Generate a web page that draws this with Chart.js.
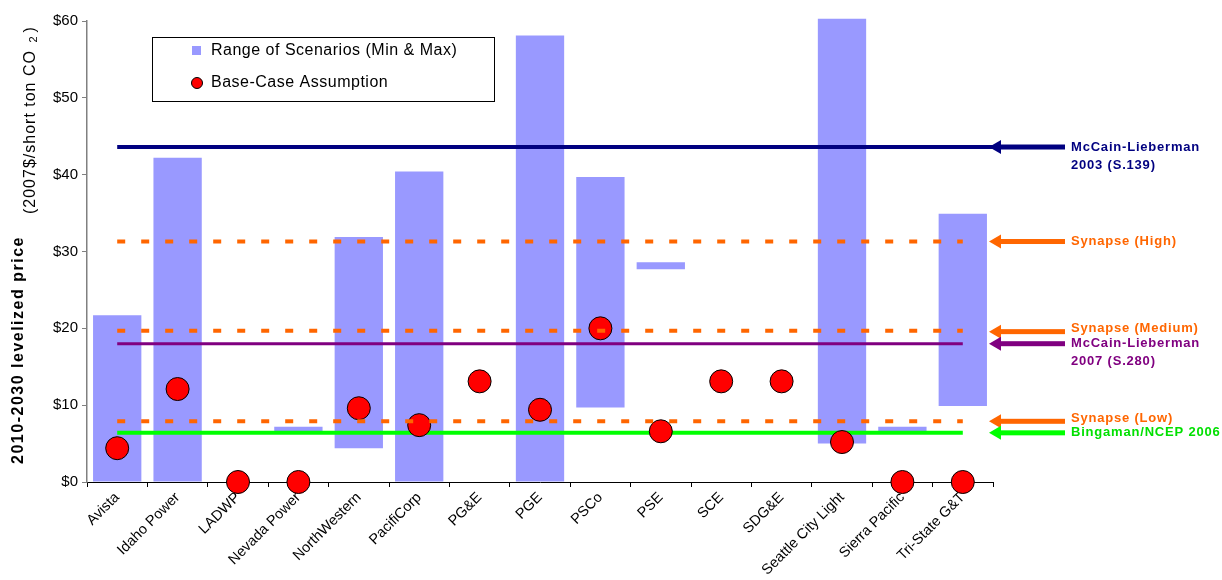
<!DOCTYPE html>
<html>
<head>
<meta charset="utf-8">
<script src="https://cdn.jsdelivr.net/npm/chart.js@4.4.1/dist/chart.umd.min.js"></script>
<style>
  html, body { margin: 0; padding: 0; background: #fff; }
  canvas { display: block; }
</style>
</head>
<body>
<canvas id="chart" width="1222" height="580"></canvas>
<script>
var companies = ['Avista', 'Idaho Power', 'LADWP', 'Nevada Power', 'NorthWestern', 'PacifiCorp', 'PG&E',
    'PGE', 'PSCo', 'PSE', 'SCE', 'SDG&E', 'Seattle City Light', 'Sierra Pacific', 'Tri-State G&T'];

// scenario range (min & max), $/short ton CO2
var scenarioMin = [0, 0, null, 6.4, 4.4, 0, null, 0, 9.7, 27.7, null, null, 5.0, 6.4, 9.9];
var scenarioMax = [21.7, 42.2, null, 7.2, 31.9, 40.4, null, 58.1, 39.7, 28.6, null, null, 60.3, 7.2, 34.9];

// base-case assumption
var baseCase = [4.4, 12.1, 0, 0, 9.6, 7.4, 13.1, 9.4, 20.0, 6.6, 13.1, 13.1, 5.2, 0, 0];

// policy / study benchmarks
var benchmarkNames = [['McCain-Lieberman', '2003 (S.139)'], ['Synapse (High)'], ['Synapse (Medium)'],
    ['McCain-Lieberman', '2007 (S.280)'], ['Synapse (Low)'], ['Bingaman/NCEP 2006']];
var benchmarkValues = [43.6, 31.3, 19.7, 18.0, 7.9, 6.4];

var yTicks = [0, 10, 20, 30, 40, 50, 60];

var FONT = 'Arial, "Liberation Sans", sans-serif';

// line styles for each benchmark
var benchStyle = [
    { color: '#000080', width: 4, dash: [], end: 15, order: 2, labelDy: 0, arrowDy: 0 },
    { color: '#FF6600', width: 4, dash: [8, 16], end: 14.5, order: 1, labelDy: 0, arrowDy: 0 },
    { color: '#FF6600', width: 4, dash: [8, 16], end: 14.5, order: 1, labelDy: -3, arrowDy: 1 },
    { color: '#800080', width: 3, dash: [], end: 14.5, order: 2, labelDy: 0, arrowDy: 0 },
    { color: '#FF6600', width: 4, dash: [8, 16], end: 14.5, order: 1, labelDy: -3, arrowDy: 0 },
    { color: '#00FF00', width: 4, dash: [], end: 14.5, order: 9, labelDy: 0, arrowDy: 0 }
];
var labelColors = ['#000080', '#FF6600', '#FF6600', '#800080', '#FF6600', '#00E000'];

var datasets = [];

datasets.push({
    type: 'bar',
    label: 'Range of Scenarios (Min & Max)',
    data: companies.map(function (c, i) {
        return scenarioMin[i] === null ? null : [scenarioMin[i], scenarioMax[i]];
    }),
    backgroundColor: '#9999FF',
    borderWidth: 0,
    grouped: false,
    barPercentage: 1.0,
    categoryPercentage: 0.8,
    clip: false,
    order: 10
});

datasets.push({
    type: 'line',
    label: 'Base-Case Assumption',
    data: baseCase,
    showLine: false,
    pointRadius: 11.5,
    pointBackgroundColor: '#FF0000',
    pointBorderColor: '#000000',
    pointBorderWidth: 1,
    clip: false,
    order: 5
});

for (var i = 0; i < benchmarkValues.length; i++) {
    var st = benchStyle[i];
    datasets.push({
        type: 'line',
        label: benchmarkNames[i].join(' '),
        xAxisID: 'x2',
        data: [{ x: 0.5, y: benchmarkValues[i] }, { x: st.end, y: benchmarkValues[i] }],
        borderColor: st.color,
        borderWidth: st.width,
        borderDash: st.dash,
        borderCapStyle: 'butt',
        pointRadius: 0,
        clip: false,
        order: st.order
    });
}

// arrows + labels to the right of the plot
var benchmarkLabels = {
    id: 'benchmarkLabels',
    afterDraw: function (chart) {
        var ctx = chart.ctx;
        var y = chart.scales.y;
        var tipX = chart.chartArea.right - 4;
        var tailX = tipX + 76;
        ctx.save();
        for (var i = 0; i < benchmarkValues.length; i++) {
            var st = benchStyle[i];
            var py = y.getPixelForValue(benchmarkValues[i]) + st.arrowDy;
            ctx.fillStyle = st.color;
            ctx.fillRect(tipX + 10, py - 2.5, tailX - tipX - 10, 5);
            ctx.beginPath();
            ctx.moveTo(tipX, py);
            ctx.lineTo(tipX + 12, py - 7);
            ctx.lineTo(tipX + 12, py + 7);
            ctx.closePath();
            ctx.fill();

            ctx.fillStyle = labelColors[i];
            ctx.font = 'bold 13px ' + FONT;
            ctx.letterSpacing = '0.8px';
            ctx.textAlign = 'left';
            ctx.textBaseline = 'middle';
            var lines = benchmarkNames[i];
            for (var k = 0; k < lines.length; k++) {
                ctx.fillText(lines[k], tailX + 6, py + st.labelDy + k * 18);
            }
        }
        ctx.restore();
    }
};

// legend box and rotated axis title
var decorations = {
    id: 'decorations',
    afterDraw: function (chart) {
        var ctx = chart.ctx;
        ctx.save();

        // legend
        ctx.fillStyle = '#ffffff';
        ctx.fillRect(152.5, 37.5, 342, 64);
        ctx.strokeStyle = '#000000';
        ctx.lineWidth = 1;
        ctx.strokeRect(152.5, 37.5, 342, 64);
        ctx.fillStyle = '#9999FF';
        ctx.fillRect(192, 46, 9, 9);
        ctx.beginPath();
        ctx.arc(197, 83, 5.5, 0, Math.PI * 2);
        ctx.fillStyle = '#FF0000';
        ctx.fill();
        ctx.strokeStyle = '#000000';
        ctx.stroke();
        ctx.fillStyle = '#000000';
        ctx.font = '16px ' + FONT;
        ctx.letterSpacing = '0.5px';
        ctx.textBaseline = 'middle';
        ctx.fillText(datasets[0].label, 211, 51);
        ctx.fillText(datasets[1].label, 211, 83);

        // y-axis title, two parts
        ctx.save();
        ctx.translate(19, 350);
        ctx.rotate(-Math.PI / 2);
        ctx.textAlign = 'center';
        ctx.font = 'bold 16px ' + FONT;
        ctx.letterSpacing = '1.5px';
        ctx.fillText('2010-2030 levelized price', 0, 0);
        ctx.restore();

        ctx.save();
        ctx.translate(31, 214);
        ctx.rotate(-Math.PI / 2);
        ctx.textAlign = 'left';
        ctx.font = '16px ' + FONT;
        ctx.letterSpacing = '1px';
        var main = '(2007$/short ton CO ';
        ctx.fillText(main, 0, 0);
        var w = ctx.measureText(main).width;
        ctx.font = '11px ' + FONT;
        ctx.fillText('2', w + 2, 3);
        var w2 = ctx.measureText('2').width;
        ctx.font = '16px ' + FONT;
        ctx.fillText(')', w + w2 + 5, 0);
        ctx.restore();

        ctx.restore();
    }
};

new Chart(document.getElementById('chart'), {
    data: { labels: companies, datasets: datasets },
    options: {
        responsive: false,
        animation: false,
        layout: { padding: { left: 0, right: 229, top: 21, bottom: 0 } },
        plugins: {
            legend: { display: false },
            tooltip: { enabled: false }
        },
        scales: {
            x: {
                type: 'category',
                offset: true,
                afterFit: function (scale) { scale.height = 98; },
                grid: {
                    offset: true,
                    drawOnChartArea: false,
                    drawTicks: true,
                    tickLength: 5,
                    color: '#000000'
                },
                border: { color: '#000000', width: 1 },
                ticks: {
                    autoSkip: false,
                    maxRotation: 45,
                    minRotation: 45,
                    padding: 2,
                    color: '#000000',
                    font: { family: FONT, size: 14.5 }
                }
            },
            x2: {
                type: 'linear',
                display: false,
                min: 0,
                max: 15
            },
            y: {
                min: 0,
                max: 60,
                afterFit: function (scale) { scale.width = 87; },
                afterBuildTicks: function (scale) {
                    scale.ticks = yTicks.map(function (v) { return { value: v }; });
                },
                grid: {
                    drawOnChartArea: false,
                    drawTicks: true,
                    tickLength: 5,
                    color: '#808080'
                },
                border: { color: '#808080', width: 1.5 },
                ticks: {
                    padding: 4,
                    color: '#000000',
                    font: { family: FONT, size: 15 },
                    callback: function (v) { return '$' + v; }
                }
            }
        }
    },
    plugins: [benchmarkLabels, decorations]
});
</script>
</body>
</html>
